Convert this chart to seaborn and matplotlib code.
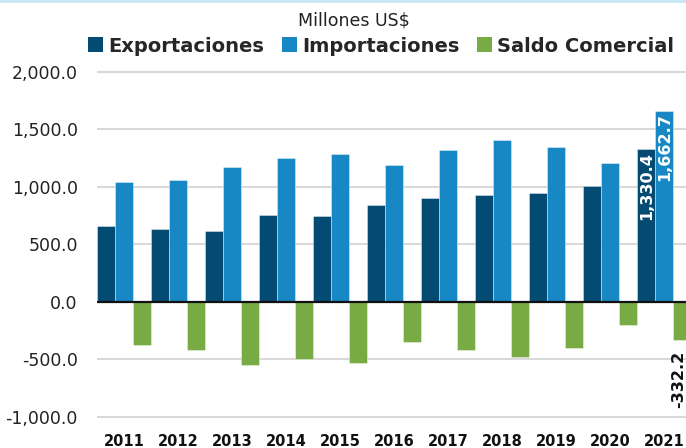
import matplotlib
matplotlib.use("Agg")
import matplotlib.pyplot as plt
from matplotlib.patches import Patch, Rectangle
import seaborn as sns
import pandas as pd

# Balanza comercial anual, millones de US$
years = ["2011", "2012", "2013", "2014", "2015", "2016",
         "2017", "2018", "2019", "2020", "2021"]
exportaciones = [663, 635, 617, 757, 748, 841, 904, 925, 943, 1004, 1330.4]
importaciones = [1042, 1056, 1173, 1254, 1283, 1187, 1321, 1411, 1347, 1207, 1662.7]
saldo = [-377, -419, -555, -499, -533, -350, -418, -485, -406, -200, -332.2]

series = ["Exportaciones", "Importaciones", "Saldo Comercial"]
colors = ["#044b73", "#1888c5", "#79ab45"]
y_ticks = [-1000, -500, 0, 500, 1000, 1500, 2000]

df = pd.DataFrame({
    "Año": years * 3,
    "Serie": [series[0]] * len(years) + [series[1]] * len(years) + [series[2]] * len(years),
    "Valor": exportaciones + importaciones + saldo,
})

sns.set_theme(style="white")
plt.rcParams["font.family"] = ["DejaVu Sans"]

fig = plt.figure(figsize=(6.86, 4.48), dpi=100)
ax = fig.add_axes([0.1418, 0.0651, 0.8582, 0.7794])

sns.barplot(data=df, x="Año", y="Valor", hue="Serie", hue_order=series,
            palette=colors, saturation=1, width=1.0, gap=0, dodge=True, ax=ax,
            edgecolor=(1, 1, 1, 0.45), linewidth=0.6, legend=False, errorbar=None)

ax.set_ylim(-1020, 2020)
ax.set_xlim(-0.5, 10.40)
ax.set_yticks(y_ticks)
ax.set_yticklabels([f"{v:,.1f}" for v in y_ticks], fontsize=12.5, color="#222222")
ax.set_xticks(range(len(years)))
ax.set_xticklabels(years, fontsize=10.5, fontweight="bold", color="#111111")
ax.tick_params(axis="y", length=0, pad=14)
ax.tick_params(axis="x", length=0, pad=11)
ax.set_xlabel("")
ax.set_ylabel("")
for s in ax.spines.values():
    s.set_visible(False)
ax.grid(axis="y", color="#d9d9d9", linewidth=1.5)
ax.set_axisbelow(True)
ax.axhline(0, color="#111111", linewidth=1.6, zorder=3)

# Etiquetas de valor para el último año
last = len(years) - 1
b_exp = ax.containers[0][last]
b_imp = ax.containers[1][last]
b_sal = ax.containers[2][last]
for bar, val in [(b_exp, exportaciones[last]), (b_imp, importaciones[last])]:
    ax.annotate(f"{val:,.1f}", (bar.get_x() + bar.get_width() / 2, val),
                xytext=(0, -2), textcoords="offset points", rotation=90,
                ha="center", va="top", color="white", fontsize=11.5,
                fontweight="bold", zorder=4)
ax.annotate(f"{saldo[last]:,.1f}", (b_sal.get_x() + b_sal.get_width() / 2, saldo[last]),
            xytext=(-2.5, -8), textcoords="offset points", rotation=90,
            ha="center", va="top", color="#111111", fontsize=11.5,
            fontweight="bold", zorder=4, annotation_clip=False)

# Franja superior
fig.patches.append(Rectangle((0, 1 - 3 / 448), 1, 3 / 448, transform=fig.transFigure,
                             facecolor="#cde8f5", edgecolor="none"))

fig.text(354 / 686, 1 - 20 / 448, "Millones US$", ha="center", va="center",
         fontsize=12.5, color="#222222")

handles = [Patch(facecolor=c, edgecolor="none", label=s) for s, c in zip(series, colors)]
fig.legend(handles=handles, loc="center", bbox_to_anchor=(381 / 686, 1 - 46 / 448),
           ncol=3, frameon=False, prop={"weight": "bold", "size": 14},
           handlelength=0.8, handleheight=0.8, handletextpad=0.25,
           columnspacing=0.9, borderpad=0, borderaxespad=0)

fig.savefig("out.png", dpi=100)
